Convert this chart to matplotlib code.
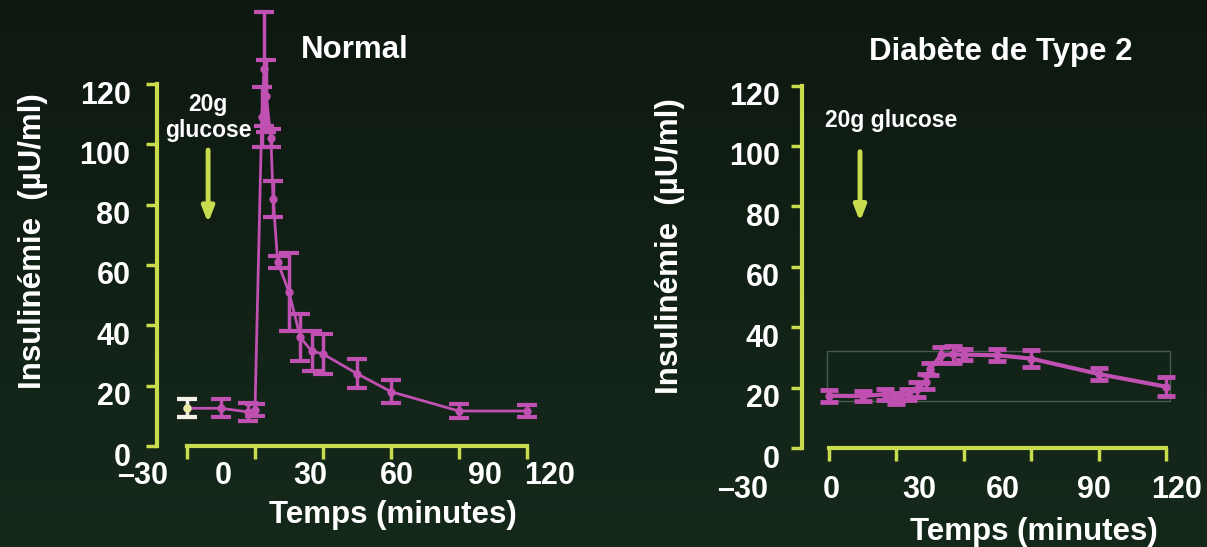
import numpy as np
import matplotlib
matplotlib.use('Agg')
import matplotlib.pyplot as plt
from matplotlib.transforms import ScaledTranslation
from matplotlib.patches import Rectangle

plt.rcParams['font.family'] = ['Liberation Sans', 'DejaVu Sans']
plt.rcParams['font.weight'] = 'bold'

# insulin after IV glucose
normal_t = [-30, -15, -3, 0, 3, 4, 5, 7, 8, 10, 15, 20, 25, 30, 45, 60, 90, 120]
normal_y = [12.5, 12.5, 11.3, 12, 109, 125, 116, 102, 82, 61, 51, 36, 31.5, 30.5, 24, 18, 11.6, 11.6]
normal_err = [3, 3, 3, 2, 10, 19, 12, 3, 6, 2, 13, 7.7, 6.5, 6.5, 4.8, 3.8, 2.4, 2]

diab_t = [-30, -15, -5, 0, 5, 9, 13, 15, 20, 25, 30, 45, 60, 90, 120]
diab_y = [17.3, 17.2, 17.8, 16.4, 17.7, 19.4, 22, 26.2, 30.8, 31, 30.9, 30.7, 29.6, 24.5, 20.3]
diab_err = [2, 1.6, 1.8, 1.9, 1.9, 2.6, 2.4, 1.9, 2.7, 2.7, 1.8, 2, 2.8, 2.1, 3.1]

xticks = [-30, 0, 30, 60, 90, 120]
xtick_labels = ['\u201330', '0', '30', '60', '90', '120']
yticks = [0, 20, 40, 60, 80, 100, 120]

W, H = 1207, 547
PINK = '#c050b2'
LIME = '#c8dc4e'

fig = plt.figure(figsize=(W / 100, H / 100), dpi=100)

# background gradient
bg = fig.add_axes([0, 0, 1, 1], zorder=-10)
grad = np.linspace(0, 1, 256).reshape(-1, 1)
top = np.array([14, 24, 17]) / 255
bot = np.array([21, 41, 27]) / 255
img = top + (bot - top) * grad[:, :, None]
bg.imshow(img, aspect='auto', extent=[0, 1, 0, 1])
bg.axis('off')


def px_text(x, y, s, **kw):
    fig.text(x / W, 1 - y / H, s, color='white', ha='center', va='center', **kw)


def make_panel(x_m30, x_120, y_0, y_120, spine_px, ylab_pad):
    # pixel geometry of the slide: tick -30 .. tick 120, y 0 .. y 120
    ppx = (x_120 - x_m30) / 150
    ppy = (y_0 - y_120) / 120
    left = x_m30 - 15 * ppx
    right = x_120 + 10 * ppx
    topp = y_0 - 145 * ppy
    ax = fig.add_axes([left / W, (H - y_0) / H, (right - left) / W, (y_0 - topp) / H])
    ax.set_facecolor('none')
    ax.set_xlim(-45, 130)
    ax.set_ylim(0, 145)
    for s in ['top', 'right']:
        ax.spines[s].set_visible(False)
    ax.spines['left'].set_position(('data', (spine_px - x_m30) / ppx - 30))
    ax.spines['left'].set_bounds(0, 120)
    ax.spines['bottom'].set_bounds(-30, 120)
    for s in ['left', 'bottom']:
        ax.spines[s].set_color(LIME)
        ax.spines[s].set_linewidth(3)
    ax.set_xticks(xticks)
    ax.set_xticklabels([])
    ax.set_yticks(yticks)
    ax.set_yticklabels([str(v) for v in yticks], fontsize=22, color='white',
                       fontweight='bold')
    ax.tick_params(axis='y', direction='out', length=8, width=2.5, color=LIME, pad=ylab_pad)
    ax.tick_params(axis='x', direction='out', length=9, width=2.5, color=LIME)
    off = ScaledTranslation(0, -0.08, fig.dpi_scale_trans)
    for lab in ax.get_yticklabels():
        lab.set_transform(lab.get_transform() + off)
    return ax


# ---- Normal ----
ax1 = make_panel(187, 527, 446, 84, 157, 11)
ax1.errorbar(normal_t, normal_y, yerr=normal_err, color=PINK, lw=2, elinewidth=2.5,
             capsize=7.5, capthick=3, marker='o', ms=5, clip_on=False)
ax1.errorbar(normal_t[:1], normal_y[:1], yerr=normal_err[:1], color='#f2f2e6', lw=0,
             elinewidth=2.5, capsize=7.5, capthick=3, marker='o', ms=5,
             mfc='#e8eca0', mec='#e8eca0', clip_on=False, zorder=5)
ax1.annotate('', xy=(-20.7, 73), xytext=(-20.7, 99),
             arrowprops=dict(arrowstyle='-|>,head_width=0.35,head_length=0.9',
                             color=LIME, lw=3.5))
ax1.text(-20.7, 109, '20g\nglucose', color='white', fontsize=16.5, ha='center',
         va='center', linespacing=1.15)

for s, x in zip(xtick_labels, [143, 223, 310, 397, 485, 550]):
    px_text(x, 476, s, fontsize=22)
px_text(355, 50, 'Normal', fontsize=22.5)
px_text(393, 515, 'Temps (minutes)', fontsize=22.5)
px_text(33, 241, 'Insulinémie  (µU/ml)', fontsize=22.5, rotation=90)

# ---- Diabete de type 2 ----
ax2 = make_panel(829, 1166, 448, 85.5, 802, 8)
ax2.add_patch(Rectangle((-30.9, 15.5), 152.7, 16.6, fill=False, ec='#4a5c4c',
                        lw=1, clip_on=False))
ax2.errorbar(diab_t, diab_y, yerr=diab_err, color=PINK, lw=3, elinewidth=2.5,
             capsize=6.5, capthick=3.5, marker='o', ms=5, clip_on=False)
ax2.annotate('', xy=(-16.2, 74), xytext=(-16.2, 99),
             arrowprops=dict(arrowstyle='-|>,head_width=0.35,head_length=0.9',
                             color=LIME, lw=3.5))
ax2.text(-2.4, 108.5, '20g glucose', color='white', fontsize=16.5, ha='center',
         va='center')

for s, x in zip(xtick_labels, [743, 831, 919, 1003, 1094, 1177]):
    px_text(x, 490, s, fontsize=22)
px_text(1001, 52, 'Diabète de Type 2', fontsize=22.5)
px_text(1034, 532, 'Temps (minutes)', fontsize=22.5)
px_text(670, 246, 'Insulinémie  (µU/ml)', fontsize=22.5, rotation=90)

fig.savefig('out.png', dpi=100, facecolor=fig.get_facecolor())
